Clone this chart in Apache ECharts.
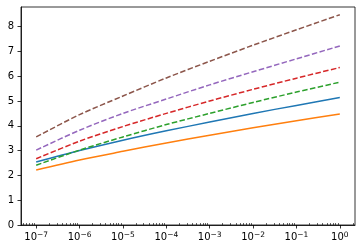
<!DOCTYPE html>
<html>
<head>
<meta charset="utf-8">
<script src="https://cdn.jsdelivr.net/npm/echarts@6/dist/echarts.min.js"></script>
<style>html,body{margin:0;padding:0;background:#fff}#c{width:362px;height:252px}</style>
</head>
<body>
<div id="c"></div>
<script>
// x positions as decade exponents (x = 10^exp)
const xExp = [-7, -6, -5, -4, -3, -2, -1, 0];
const tickExps = [-7, -6, -5, -4, -3, -2, -1, 0];
const yTicks = [0, 1, 2, 3, 4, 5, 6, 7, 8];
// series values
const blueVals   = [2.54, 3.00, 3.42, 3.80, 4.15, 4.50, 4.82, 5.14];
const orangeVals = [2.22, 2.62, 2.97, 3.31, 3.62, 3.92, 4.20, 4.48];
const greenVals  = [2.41, 3.02, 3.55, 4.05, 4.50, 4.94, 5.36, 5.76];
const redVals    = [2.67, 3.38, 3.97, 4.50, 5.00, 5.47, 5.92, 6.35];
const purpleVals = [3.02, 3.82, 4.50, 5.08, 5.65, 6.18, 6.70, 7.22];
const brownVals  = [3.55, 4.45, 5.20, 5.93, 6.60, 7.25, 7.87, 8.48];

const FONT = 'DejaVu Sans';
const minorTicks = [];
for (let n = -8; n <= 0; n++) {
  for (let k = 2; k <= 9; k++) {
    const v = n + Math.log10(k);
    if (v > -7.35 && v < 0.35) minorTicks.push(v);
  }
}
function toPairs(vals) { return xExp.map((x, i) => [x, vals[i]]); }
function sup(n) { return String(n).replace('-', '\u2212'); }

const seriesDefs = [
  {vals: blueVals, color: '#1f77b4', dash: false},
  {vals: orangeVals, color: '#ff7f0e', dash: false},
  {vals: greenVals, color: '#2ca02c', dash: true},
  {vals: redVals, color: '#d62728', dash: true},
  {vals: purpleVals, color: '#9467bd', dash: true},
  {vals: brownVals, color: '#8c564b', dash: true}
];

const chart = echarts.init(document.getElementById('c'), null, {renderer: 'canvas'});
const xBase = {
  type: 'value', min: -7.35, max: 0.35,
  splitLine: {show: false},
  axisLine: {show: true, onZero: false, lineStyle: {color: '#000', width: 0.8}}
};
chart.setOption({
  animation: false,
  backgroundColor: '#fff',
  grid: {left: 21, right: 7, top: 7, bottom: 27, show: true, borderColor: '#000', borderWidth: 0.8, containLabel: false},
  xAxis: [
    Object.assign({}, xBase, {
      axisTick: {show: true, inside: false, length: 3.5, lineStyle: {color: '#000', width: 0.8}, customValues: tickExps},
      axisLabel: {
        show: true, margin: 6, customValues: tickExps,
        formatter: v => '{b|10}{s|' + sup(Math.round(v)) + '}',
        rich: {
          b: {fontFamily: FONT, fontSize: 10, color: '#000'},
          s: {fontFamily: FONT, fontSize: 7.5, color: '#000', padding: [0, 0, 4, 0]}
        }
      }
    }),
    Object.assign({}, xBase, {
      axisLine: {show: false},
      axisTick: {show: true, inside: false, length: 2, lineStyle: {color: '#000', width: 0.6}, customValues: minorTicks},
      axisLabel: {show: false}
    })
  ],
  yAxis: {
    type: 'value', min: 0, max: 8.79, interval: 1,
    splitLine: {show: false},
    axisLine: {show: true, onZero: false, lineStyle: {color: '#000', width: 0.8}},
    axisTick: {show: true, length: 3.5, lineStyle: {color: '#000', width: 0.8}, customValues: yTicks},
    axisLabel: {margin: 7, fontFamily: FONT, fontSize: 10, color: '#000', customValues: yTicks}
  },
  series: seriesDefs.map(s => ({
    type: 'line', xAxisIndex: 0, data: toPairs(s.vals), showSymbol: false, smooth: 0.3,
    lineStyle: {color: s.color, width: 1.5, type: s.dash ? [5.5, 2.4] : 'solid'},
    itemStyle: {color: s.color}
  }))
});
</script>
</body>
</html>
